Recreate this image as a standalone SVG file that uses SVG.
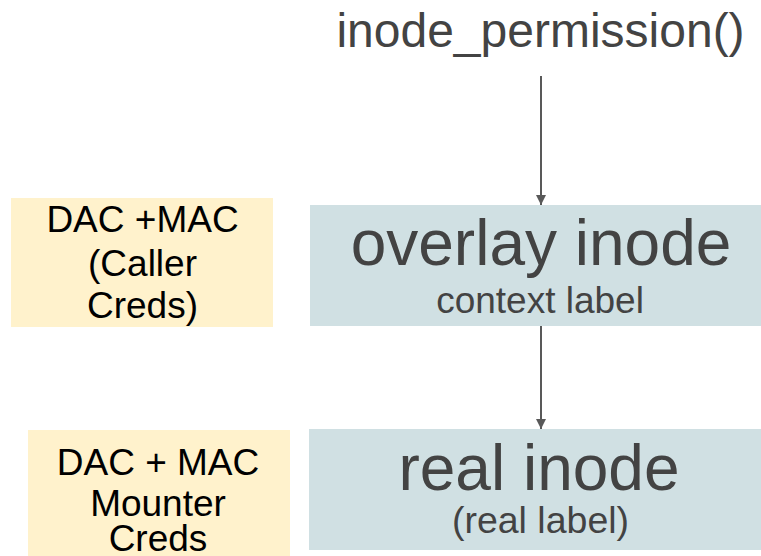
<svg xmlns="http://www.w3.org/2000/svg" width="761" height="556" viewBox="0 0 761 556">
  <style>
    .t { font-family: "Liberation Sans", Arial, sans-serif; text-anchor: middle; }
    .gray { fill: #434343; }
    .blk { fill: #000000; font-size: 37px; }
    .inode { fill: #d0e0e3; }
    .creds { fill: #fff2cc; }
    .conn { stroke: #595959; stroke-width: 2; fill: none; }
  </style>
  <defs>
    <marker id="arrow" viewBox="0 0 10 10" refX="10" refY="5" markerWidth="5" markerHeight="5" markerUnits="strokeWidth" orient="auto">
      <path d="M0,0 L10,5 L0,10 Z" fill="#595959"/>
    </marker>
  </defs>

  <g id="call">
    <text class="t gray" x="540.5" y="47" font-size="48">inode_permission()</text>
  </g>

  <g id="overlay-inode">
    <rect class="inode" x="310" y="205" width="451" height="121"/>
    <text class="t gray" x="541" y="265" font-size="64">overlay inode</text>
    <text class="t gray" x="540" y="313" font-size="37">context label</text>
  </g>

  <g id="real-inode">
    <rect class="inode" x="309" y="429" width="452" height="121"/>
    <text class="t gray" x="539" y="490" font-size="64">real inode</text>
    <text class="t gray" x="540.5" y="533" font-size="37.5">(real label)</text>
  </g>

  <g id="caller-creds">
    <rect class="creds" x="11" y="198" width="262" height="129"/>
    <text class="t blk" x="142.5" y="232">DAC +MAC</text>
    <text class="t blk" x="142.5" y="276">(Caller</text>
    <text class="t blk" x="142.5" y="318">Creds)</text>
  </g>

  <g id="mounter-creds">
    <rect class="creds" x="28" y="430" width="262" height="126"/>
    <text class="t blk" x="158" y="475">DAC + MAC</text>
    <text class="t blk" x="158" y="516">Mounter</text>
    <text class="t blk" x="158" y="551">Creds</text>
  </g>

  <g id="connectors">
    <line class="conn" x1="541" y1="76" x2="541" y2="205" marker-end="url(#arrow)"/>
    <line class="conn" x1="541" y1="326" x2="541" y2="429" marker-end="url(#arrow)"/>
  </g>
</svg>
